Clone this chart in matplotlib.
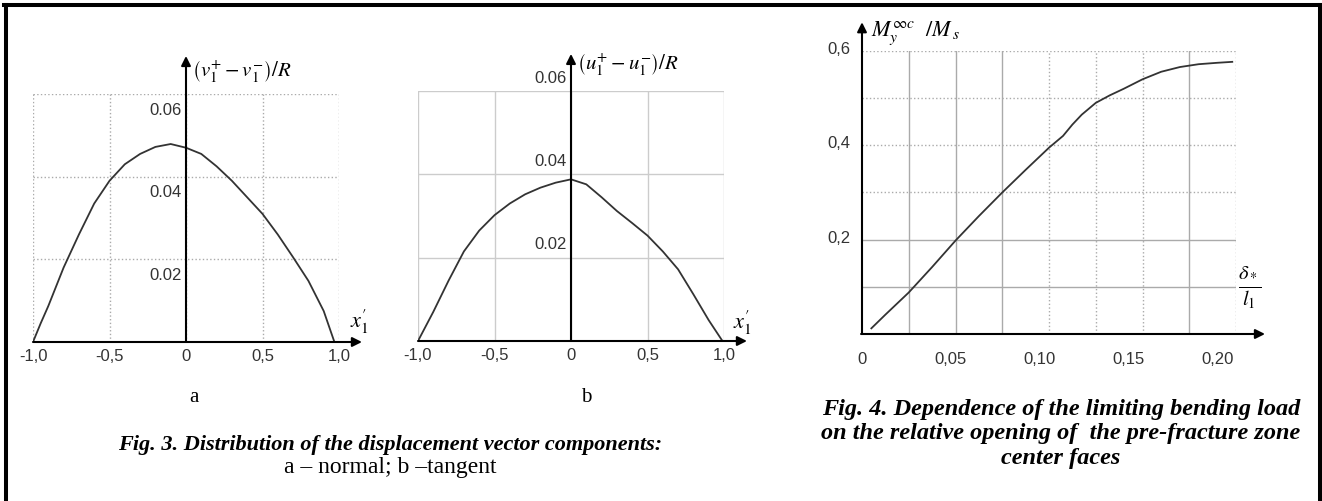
import matplotlib.pyplot as plt
from matplotlib.lines import Line2D

plt.rcParams['mathtext.fontset'] = 'stix'

# Fig. 3a - normal component
xa = [-1.0, -0.95, -0.9, -0.8, -0.7, -0.6, -0.5, -0.4, -0.3, -0.2, -0.1, 0.0,
      0.1, 0.2, 0.3, 0.4, 0.5, 0.6, 0.7, 0.8, 0.9, 0.97]
ya = [0.0, 0.0045, 0.0087, 0.018, 0.026, 0.0335, 0.039, 0.043, 0.0455, 0.0472, 0.0479, 0.0470,
      0.0455, 0.0425, 0.039, 0.035, 0.031, 0.026, 0.0205, 0.0148, 0.0075, 0.0]

# Fig. 3b - tangent component
xb = [-1.0, -0.9, -0.8, -0.7, -0.6, -0.5, -0.4, -0.3, -0.2, -0.1, 0.0,
      0.1, 0.2, 0.3, 0.4, 0.5, 0.6, 0.7, 0.8, 0.9, 0.99]
yb = [0.0, 0.007, 0.0145, 0.0215, 0.0265, 0.0302, 0.033, 0.0352, 0.0368, 0.038, 0.0388,
      0.0376, 0.0345, 0.0312, 0.0283, 0.0253, 0.0215, 0.0172, 0.0112, 0.005, 0.0]

# Fig. 4 - limiting bending load
xc = [0.005, 0.0125, 0.025, 0.0375, 0.05, 0.0625, 0.075, 0.0875, 0.10, 0.1075, 0.1125,
      0.1175, 0.125, 0.1325, 0.14, 0.15, 0.16, 0.17, 0.18, 0.19, 0.198]
yc = [0.012, 0.041, 0.088, 0.142, 0.198, 0.250, 0.300, 0.348, 0.395, 0.420, 0.444,
      0.465, 0.490, 0.506, 0.520, 0.540, 0.556, 0.566, 0.572, 0.575, 0.577]

ab_xticks = [-1.0, -0.5, 0.0, 0.5, 1.0]
ab_xlabels = ['-1,0', '-0,5', '0', '0,5', '1,0']
ab_yticks = [0.02, 0.04, 0.06]
ab_ylabels = ['0.02', '0.04', '0.06']
c_xticks = [0, 0.05, 0.10, 0.15, 0.20]
c_xlabels = ['0', '0,05', '0,10', '0,15', '0,20']
c_yticks = [0.2, 0.4, 0.6]
c_ylabels = ['0,2', '0,4', '0,6']

W, H = 1322, 502
fig = plt.figure(figsize=(W / 100, H / 100), dpi=100)


def px_axes(x0, y0, x1, y1):
    # pixel box (top-left origin) -> axes
    return fig.add_axes([x0 / W, 1 - y1 / H, (x1 - x0) / W, (y1 - y0) / H])


def arrow(ax, start, end):
    ax.annotate('', xy=end, xytext=start, annotation_clip=False,
                arrowprops=dict(arrowstyle='-|>', lw=1.5, color='k', mutation_scale=14,
                                shrinkA=0, shrinkB=0))


def bare(ax):
    for s in ax.spines.values():
        s.set_visible(False)
    ax.set_xticks([])
    ax.set_yticks([])
    ax.patch.set_alpha(0)


tick_font = dict(family='Liberation Sans', fontsize=12, color='#333333')

# ---- panel a ----
ax1 = px_axes(33, 95, 339, 343)
bare(ax1)
ax1.set_xlim(-1, 1)
ax1.set_ylim(0, 0.06)
for x in ab_xticks:
    ax1.axvline(x, color='#aaaaaa', lw=1, ls=':', zorder=0)
for y in ab_yticks:
    ax1.axhline(y, color='#aaaaaa', lw=1, ls=':', zorder=0)
ax1.plot(xa, ya, color='#333333', lw=1.3)
arrow(ax1, (-1, 0), (1.15, 0))
arrow(ax1, (0, 0), (0, 0.0692))
for x, lab in zip(ab_xticks, ab_xlabels):
    ax1.text(x, -0.0015, lab, ha='center', va='top', **tick_font)
for y, lab in zip(ab_yticks, ab_ylabels):
    ax1.text(-0.03, y - 0.0037, lab, ha='right', va='center', **tick_font)
ax1.text(0.04, 0.0655, r'$\left(v_1^{+}-v_1^{-}\right)/R$', fontsize=15, ha='left', va='center')
ax1.text(1.13, 0.005, r'$x_1^{\prime}$', fontsize=16, ha='center', va='center')
ax1.text(0.05, -0.0131, 'a', family='Liberation Serif', fontsize=15, ha='center', va='center')

# ---- panel b ----
ax2 = px_axes(418, 92, 724, 342)
bare(ax2)
ax2.set_xlim(-1, 1)
ax2.set_ylim(0, 0.06)
for x in ab_xticks:
    ax2.axvline(x, color='#cccccc', lw=1, zorder=0)
for y in ab_yticks:
    ax2.axhline(y, color='#cccccc', lw=1, zorder=0)
ax2.plot(xb, yb, color='#333333', lw=1.3)
arrow(ax2, (-1, 0), (1.15, 0))
arrow(ax2, (0, 0), (0, 0.0689))
for x, lab in zip(ab_xticks, ab_xlabels):
    ax2.text(x, -0.0015, lab, ha='center', va='top', **tick_font)
for y, lab in zip(ab_yticks, ab_ylabels):
    ax2.text(-0.03, y + 0.0033, lab, ha='right', va='center', **tick_font)
ax2.text(0.04, 0.0665, r'$\left(u_1^{+}-u_1^{-}\right)/R$', fontsize=15, ha='left', va='center')
ax2.text(1.12, 0.0045, r'$x_1^{\prime}$', fontsize=16, ha='center', va='center')
ax2.text(0.1, -0.0133, 'b', family='Liberation Serif', fontsize=15, ha='center', va='center')

# ---- panel c ----
ax3 = px_axes(862, 52, 1236, 335)
bare(ax3)
ax3.set_xlim(0, 0.2)
ax3.set_ylim(0, 0.6)
v_styles = ['-', '-', '-', ':', ':', ':', '-', ':']
for i, st in enumerate(v_styles):
    ax3.axvline(0.025 * (i + 1), color='#aaaaaa', lw=1, ls=st, zorder=0)
h_styles = ['-', '-', ':', ':', ':', ':']
for i, st in enumerate(h_styles):
    ax3.axhline(0.1 * (i + 1), color='#aaaaaa', lw=1, ls=st, zorder=0)
ax3.plot(xc, yc, color='#333333', lw=1.3)
arrow(ax3, (-0.0005, 0), (0.2155, 0))
arrow(ax3, (0, 0), (0, 0.661))
for x, lab in zip(c_xticks, c_xlabels):
    ax3.text(x - 0.05 * x, -0.035, lab, ha='center', va='top', **tick_font)
for y, lab in zip(c_yticks, c_ylabels):
    ax3.text(-0.006, y + 0.005, lab, ha='right', va='center', **tick_font)
ax3.text(0.005, 0.64, r'$M_y^{\infty c}\ \ /M_{\,s}$', fontsize=16, ha='left', va='center')
ax3.text(0.2075, 0.1, r'$\frac{\delta_*}{l_1}$', fontsize=21, ha='center', va='center')

# ---- captions ----
fig.text(390 / W, 1 - 445 / H, 'Fig. 3. Distribution of the displacement vector components:',
         family='Liberation Serif', fontsize=16, weight='bold', style='italic', ha='center', va='center')
fig.text(390 / W, 1 - 468 / H, 'a \u2013 normal; b \u2013tangent',
         family='Liberation Serif', fontsize=17, ha='center', va='center')
cap4 = ['Fig. 4. Dependence of the limiting bending load',
        'on the relative opening of  the pre-fracture zone',
        'center faces']
for i, line in enumerate(cap4):
    fig.text(1061 / W, 1 - (409 + 25 * i) / H, line, family='Liberation Serif', fontsize=17.5,
             weight='bold', style='italic', ha='center', va='center')

# frame
lw = 2.9
fig.add_artist(Line2D([6 / W, 6 / W], [0, 1 - 6 / H], transform=fig.transFigure, color='k', lw=lw))
fig.add_artist(Line2D([4 / W, 1320 / W], [1 - 6 / H, 1 - 6 / H], transform=fig.transFigure, color='k', lw=lw))
fig.add_artist(Line2D([1320 / W, 1320 / W], [0, 1 - 6 / H], transform=fig.transFigure, color='k', lw=lw))

plt.savefig('out.png', dpi=100)
